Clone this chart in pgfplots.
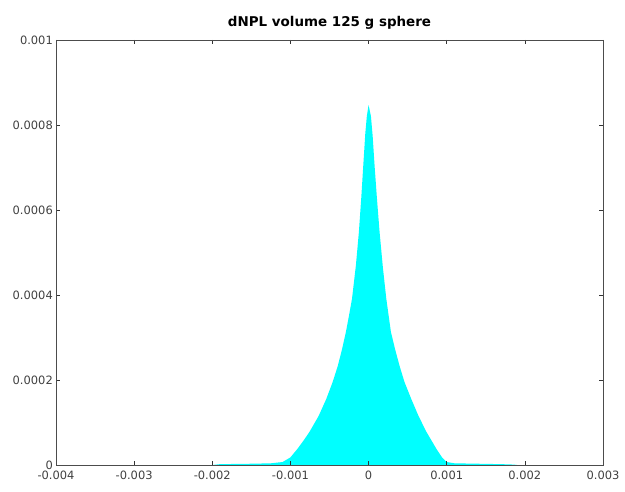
\documentclass[border=0pt]{standalone}
\usepackage{pgfplots}
\pgfplotsset{compat=1.18}
\usepackage{fontspec}
\setmainfont{DejaVu Sans}
\definecolor{aqua}{RGB}{0,255,255}
\begin{document}
\begin{tikzpicture}[x=1bp,y=1bp]
\begin{axis}[
  name=ax,
  at={(56bp,27bp)}, anchor=south west,
  scale only axis,
  width=547bp, height=425bp,
  xmin=-0.004, xmax=0.003,
  ymin=0, ymax=0.001,
  scaled ticks=false,
  axis line style={draw=black!70, line width=0.8pt},
  tick style={black!80, line width=0.6pt},
  tick align=inside,
  major tick length=4bp,
  xtick={-0.004,-0.003,-0.002,-0.001,0,0.001,0.002,0.003},
  xticklabels={-0.004,-0.003,-0.002,-0.001,0,0.001,0.002,0.003},
  ytick={0,0.0002,0.0004,0.0006,0.0008,0.001},
  yticklabels={0,0.0002,0.0004,0.0006,0.0008,0.001},
  ticklabel style={font=\fontsize{11.5}{13}\selectfont, text=black!75},
  xticklabel style={yshift=-4bp, inner sep=2bp},
  yticklabel style={xshift=-1bp, inner sep=2bp},
  title={\bfseries dNPL volume 125 g sphere},
  title style={font=\fontsize{13.5}{15}\selectfont, yshift=1bp},
  axis on top,
  clip=true,
]
\addplot[fill=aqua, draw=none] coordinates {
(-0.00200,0) (-0.00190,0.000002) (-0.00150,0.000003) (-0.00125,0.000004)
(-0.00110,0.000007) (-0.00100,0.000018) (-0.00091,0.000038) (-0.00083,0.000058)
(-0.000756,0.000078) (-0.00064,0.000115) (-0.000542,0.000155) (-0.00046,0.000195)
(-0.000394,0.000233) (-0.00034,0.000272) (-0.000290,0.000313) (-0.00025,0.000352)
(-0.000212,0.000391) (-0.000162,0.000470) (-0.000124,0.000548) (-0.000093,0.000630)
(-0.000068,0.000704) (-0.000042,0.000780) (-0.000022,0.000821) (0.000000,0.000847)
(0.000030,0.000821) (0.000052,0.000775) (0.000077,0.000704) (0.000108,0.000625)
(0.000141,0.000548) (0.000183,0.000465) (0.000227,0.000391) (0.000286,0.000313)
(0.00034,0.000272) (0.000397,0.000233) (0.00046,0.000195) (0.000547,0.000155)
(0.00064,0.000115) (0.000740,0.000078) (0.000868,0.000038) (0.00094,0.000018)
(0.00100,0.000007) (0.00110,0.000004) (0.00140,0.000003) (0.00170,0.000002)
(0.00186,0.000001) (0.00190,0)
} \closedcycle;
\end{axis}
\path (0,0) rectangle (625bp,492bp);
\end{tikzpicture}
\end{document}
